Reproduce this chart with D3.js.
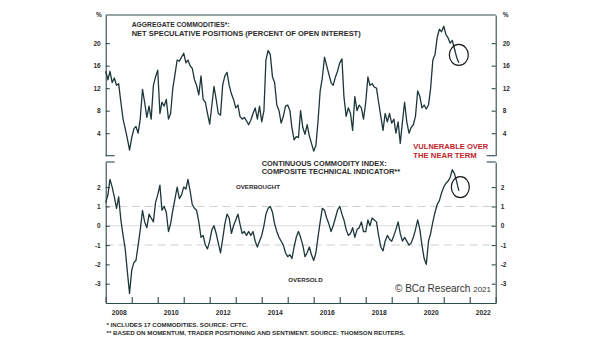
<!DOCTYPE html>
<html>
<head>
<meta charset="utf-8">
<script src="https://cdn.jsdelivr.net/npm/d3@7"></script>
<style>
  html, body { margin: 0; padding: 0; background: #ffffff; }
  svg { display: block; }
  text { font-family: Arial, "Liberation Sans", Helvetica, sans-serif; }
</style>
</head>
<body>
<div id="chart"></div>
<script>
// ---------------- DATA ----------------
// Monthly observations starting January 2008
const startYear = 2008;
const netSpecPositions = [
  15, 13.5, 15, 13, 13.8, 12.5, 12.8, 9.5, 6.5, 4.8, 3, 1.0,
  3.2, 4.8, 5.2, 4, 6.6, 11.8, 9.5, 6.8, 8.8, 6.5, 12.5, 14,
  15.2, 7.5, 9.5, 8.8, 10, 6.5, 7.5, 12, 14.5, 17, 16.8, 17.5,
  18.2, 16.5, 17, 16, 15.5, 13.5, 12.5, 10.8, 14.2, 10, 9.5, 7.5,
  5.6, 9, 12.3, 10, 7.5, 7.2, 12.5, 14.2, 14.8, 12.5, 11, 10,
  8.5, 9, 7, 6.5, 6.8, 6.2, 5.5, 6.3, 7.5, 8.5, 6.5, 8.8,
  6, 8, 17, 18.7, 18, 14, 13, 9, 8, 5.8, 7, 8.8,
  9, 8, 5, 2.8, 3.4, 3.2, 8, 5, 3.8, 5.5, 3.5, 2.2,
  0.8, 1.8, 6, 11.5, 13.8, 17.5, 16, 14.5, 13, 12.5, 14, 15,
  16.5, 17.2, 10.5, 7, 8.5, 7.5, 4.5, 10.5, 8, 9, 8.5, 6.5,
  9.5, 14, 12.5, 12.8, 12.2, 12, 9.5, 7, 4.5, 7.5, 6, 7.5,
  5.8, 6.5, 4, 6, 2.2, 6, 9.5, 6, 4, 5, 5.5, 7,
  11.5, 10.5, 8.5, 9, 8.3, 9, 12, 17, 18, 21, 22.5, 22,
  23, 21.5, 21, 20, 20.5, 19, 17.5, 16.5
];
const technicalIndicator = [
  1.2, 1.6, 2.4, 2.0, 1.5, 0.9, 1.5, 0.3, -0.5, -1.2, -2.4, -3.5,
  -2.3, -1.9, -1.8, -1.0, -0.2, 0.8, 0.2, -0.1, 0.6, 0.4, 0.2, 1.2,
  1.6, 2.1, 0.8, 1.0, 0.7, -0.3, 0.1, 0.8, 1.4, 2.0, 1.4, 1.6,
  2.0, 1.9, 2.4, 1.8, 1.1, 0.9, 0.8, 0.2, -0.6, -0.5, -1.0, -1.2,
  -0.8, -0.2, 0.0, -0.4, -0.9, -1.4, -0.7, 0.1, 0.6, 0.4, -0.4, 0.0,
  0.3, 0.6, 0.1, -0.4, -0.3, -0.5, -0.3, -0.5, -0.3, -0.8, -1.1, -0.8,
  -0.5, 0.0, 0.6, 0.9, 1.0, 0.7, 0.1, -0.3, -0.6, -0.8, -1.0, -1.4,
  -1.6, -1.5, -1.7, -1.1, -0.6, -0.3, -0.6, -1.0, -1.6, -1.4, -1.1, -1.5,
  -1.8, -1.4, -0.6, 0.2, 0.9, 0.8, 0.4, 0.1, -0.3, 0.0, 0.4, 0.8,
  1.0, 0.6, 0.3, -0.2, -0.5, -0.4, -0.1, -0.6, -0.2, -0.1, 0.2, -0.3,
  -0.3, 0.3, 0.0, 0.4, 0.3, 0.2, -0.5, -1.1, -1.3, -0.8, -0.5, -0.7,
  -0.8, -0.5, -0.2, 0.2, -0.4, -0.8, -0.6, -0.8, -1.0, -0.9, -0.6, -0.2,
  0.3, -0.2, -1.0, -1.7, -2.0, -0.8, -0.4, 0.2, 0.7, 1.1, 1.3, 1.7,
  2.0, 2.2, 2.3, 2.5, 2.9, 2.7, 2.3, 1.8
];
const topTicks = [4, 8, 12, 16, 20];
const bottomTicks = [-3, -2, -1, 0, 1, 2];
const yearLabels = [2008, 2010, 2012, 2014, 2016, 2018, 2020, 2022];
const topTitle = ["AGGREGATE COMMODITIES*:", "NET SPECULATIVE POSITIONS (PERCENT OF OPEN INTEREST)"];
const bottomTitle = ["CONTINUOUS COMMODITY INDEX:", "COMPOSITE TECHNICAL INDICATOR**"];
const warning = ["VULNERABLE OVER", "THE NEAR TERM"];
const footnotes = ["* INCLUDES 17 COMMODITIES. SOURCE: CFTC.",
  "** BASED ON MOMENTUM, TRADER POSITIONING AND SENTIMENT. SOURCE: THOMSON REUTERS."];

// ---------------- LAYOUT ----------------
const W = 605, H = 341;
const left = 105.7, right = 495.7;
const topPanel = { y0: 15, y1: 155.7 };
const botPanel = { y0: 162, y1: 303 };
const ink = "#2b2b2b";
const lineColor = "#1d3639";
const axisColor = "#2f4a4d";

const svg = d3.select("#chart").append("svg").attr("width", W).attr("height", H);

const x = d3.scaleTime()
  .domain([new Date(2008, 0, 1), new Date(2023, 0, 1)])
  .range([left, right]);
const yTop = d3.scaleLinear().domain([0, 25]).range([topPanel.y1, topPanel.y0]);
const yBot = d3.scaleLinear().domain([-4, 3.3]).range([botPanel.y1, botPanel.y0]);

const dateOf = i => new Date(startYear, i, 1);
const topData = netSpecPositions.map((v, i) => ({ d: dateOf(i), v }));
const botData = technicalIndicator.map((v, i) => ({ d: dateOf(i), v }));

// ---- reference lines bottom panel
const g0 = svg.append("g");
g0.append("line").attr("x1", left).attr("x2", right)
  .attr("y1", yBot(0)).attr("y2", yBot(0))
  .attr("stroke", "#dcdcdc").attr("stroke-width", 1);
[1, -1].forEach(v => {
  g0.append("line").attr("x1", left).attr("x2", right)
    .attr("y1", yBot(v)).attr("y2", yBot(v))
    .attr("stroke", "#cfcfcf").attr("stroke-width", 1)
    .attr("stroke-dasharray", "8,5");
});

// ---- frame lines
const frame = svg.append("g").attr("stroke", axisColor).attr("stroke-width", 1.1).attr("fill", "none");
frame.append("line").attr("x1", left).attr("x2", right).attr("y1", topPanel.y0).attr("y2", topPanel.y0);
frame.append("line").attr("x1", left).attr("x2", left + 9).attr("y1", topPanel.y1).attr("y2", topPanel.y1);
frame.append("line").attr("x1", right - 9).attr("x2", right).attr("y1", topPanel.y1).attr("y2", topPanel.y1);
frame.append("line").attr("x1", left).attr("x2", left + 9).attr("y1", botPanel.y0).attr("y2", botPanel.y0);
frame.append("line").attr("x1", right - 9).attr("x2", right).attr("y1", botPanel.y0).attr("y2", botPanel.y0);

function styleAxis(g, size) {
  g.selectAll("path.domain").attr("stroke", axisColor).attr("stroke-width", 1.1);
  g.selectAll(".tick line").attr("stroke", axisColor).attr("stroke-width", 1.1);
  g.selectAll("text").attr("fill", ink).attr("font-size", size + "px").attr("font-weight", "bold")
    .attr("font-family", 'Arial, "Liberation Sans", sans-serif');
}
const fmtNum = d3.format("d");

// ---- top axes
const topL = svg.append("g").attr("transform", `translate(${left},0)`)
  .call(d3.axisLeft(yTop).tickValues(topTicks).tickSizeInner(-4).tickSizeOuter(0).tickPadding(5).tickFormat(fmtNum));
styleAxis(topL, 6.5);
const topR = svg.append("g").attr("transform", `translate(${right},0)`)
  .call(d3.axisRight(yTop).tickValues(topTicks).tickSizeInner(-4).tickSizeOuter(0).tickPadding(7).tickFormat(fmtNum));
styleAxis(topR, 6.5);

// ---- bottom axes
const fmtSigned = d => (d < 0 ? "-" + Math.abs(d) : String(d));
const botL = svg.append("g").attr("transform", `translate(${left},0)`)
  .call(d3.axisLeft(yBot).tickValues(bottomTicks).tickSizeInner(-4).tickSizeOuter(0).tickPadding(5).tickFormat(fmtSigned));
styleAxis(botL, 6.5);
const botR = svg.append("g").attr("transform", `translate(${right},0)`)
  .call(d3.axisRight(yBot).tickValues(bottomTicks).tickSizeInner(-4).tickSizeOuter(0).tickPadding(5).tickFormat(fmtSigned));
styleAxis(botR, 6.5);

// ---- x axis: yearly ticks, labels centred in even years
const yearTicks = d3.range(2008, 2024).map(y => new Date(y, 0, 1));
const xAx = svg.append("g").attr("transform", `translate(0,${botPanel.y1})`)
  .call(d3.axisBottom(x).tickValues(yearTicks).tickSizeInner(-6).tickSizeOuter(0).tickFormat(""));
styleAxis(xAx, 6.7);
const xLab = svg.append("g").attr("transform", `translate(0,${botPanel.y1})`)
  .call(d3.axisBottom(x).tickValues(yearLabels.map(y => new Date(y, 6, 2))).tickSize(0).tickPadding(7)
    .tickFormat(d3.timeFormat("%Y")));
xLab.select("path.domain").remove();
styleAxis(xLab, 6.7);

// ---- % labels
[[left - 4, "end"], [right + 7, "start"]].forEach(([px, anchor]) => {
  svg.append("text").attr("x", px).attr("y", topPanel.y0 + 2.2).attr("text-anchor", anchor)
    .attr("font-size", "6.5px").attr("font-weight", "bold").attr("fill", ink).text("%");
});

// ---- lines
const lineTop = d3.line().x(d => x(d.d)).y(d => yTop(d.v)).curve(d3.curveLinear);
const lineBot = d3.line().x(d => x(d.d)).y(d => yBot(d.v)).curve(d3.curveLinear);
svg.append("path").datum(topData).attr("d", lineTop)
  .attr("fill", "none").attr("stroke", lineColor).attr("stroke-width", 1.3).attr("stroke-linejoin", "round");
svg.append("path").datum(botData).attr("d", lineBot)
  .attr("fill", "none").attr("stroke", lineColor).attr("stroke-width", 1.3).attr("stroke-linejoin", "round");

// ---- circles marking the latest readings
const lastTop = topData[topData.length - 1];
const lastBot = botData[botData.length - 1];
svg.append("ellipse").attr("cx", x(lastTop.d)).attr("cy", yTop(lastTop.v + 1.4)).attr("rx", 9.5).attr("ry", 10.5)
  .attr("fill", "none").attr("stroke", "#1a1a1a").attr("stroke-width", 1.2);
svg.append("ellipse").attr("cx", x(lastBot.d) + 1.5).attr("cy", yBot(lastBot.v + 0.2)).attr("rx", 9).attr("ry", 10.5)
  .attr("fill", "none").attr("stroke", "#1a1a1a").attr("stroke-width", 1.2);

// ---- texts
function label(txt, px, py, size, opts = {}) {
  const t = svg.append("text").attr("x", px).attr("y", py)
    .attr("font-size", size + "px").attr("font-weight", opts.weight || "bold")
    .attr("fill", opts.fill || ink).text(txt);
  if (opts.len) t.attr("textLength", opts.len).attr("lengthAdjust", "spacingAndGlyphs");
  if (opts.family) t.attr("font-family", opts.family);
  return t;
}
label(topTitle[0], 131.7, 27.4, 6.8, { len: 98 });
label(topTitle[1], 131.7, 35.8, 6.8, { len: 229 });
label(bottomTitle[0], 261.7, 165.8, 6.8, { len: 125 });
label(bottomTitle[1], 261.7, 173.5, 6.8, { len: 138.5 });
label("OVERBOUGHT", 236, 188.9, 6, { len: 44 });
label("OVERSOLD", 288.3, 281.5, 6, { len: 34.5 });
label(warning[0], 413.3, 148.6, 8, { len: 75, fill: "#c0232c" });
label(warning[1], 413.3, 157.6, 8, { len: 63.4, fill: "#c0232c" });
label(footnotes[0], 106.5, 326.5, 5.6, { len: 141.5 });
label(footnotes[1], 106.5, 334.8, 5.6, { len: 298.5 });

const cr = svg.append("text").attr("x", 395).attr("y", 291.8)
  .attr("font-family", '"Liberation Serif", "DejaVu Serif", serif')
  .attr("font-size", "10px").attr("fill", "#333");
cr.append("tspan").text("© BCα Research ");
cr.append("tspan").attr("font-size", "8px").text("2021");
</script>
</body>
</html>
